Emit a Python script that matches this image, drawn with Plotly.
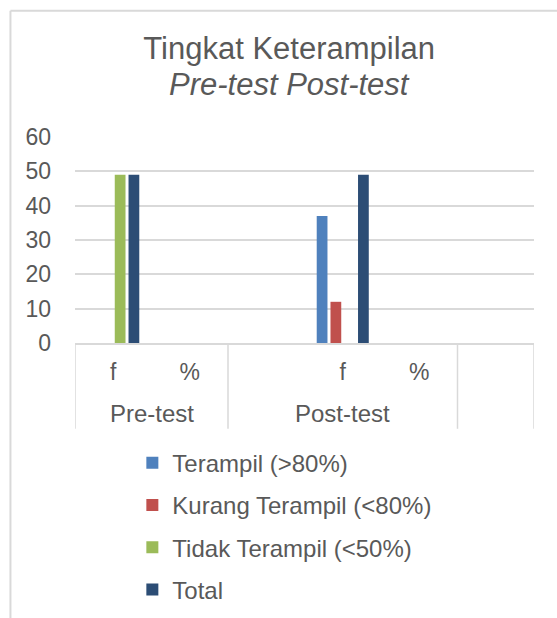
import plotly.graph_objects as go

# ---- data ----
positions = [0, 1, 2, 3, 4, 5]          # category slots on the x axis
tick_pos = [0, 1, 3, 4]
tick_text = ["f", "%", "f", "%"]
groups = ["Pre-test", "Post-test"]
group_centers = [0.5, 3]
dividers = [-0.5, 1.5, 4.5, 5.5]

series_names = ["Terampil (>80%)", "Kurang Terampil (<80%)", "Tidak Terampil (<50%)", "Total"]
terampil = [None, None, None, 37, None, None]
kurang = [None, None, None, 12, None, None]
tidak = [49, None, None, None, None, None]
total = [49, None, None, 49, None, None]
series_values = [terampil, kurang, tidak, total]
colors = ["#4F81BD", "#C0504D", "#9BBB59", "#2C4D75"]

TXT = "#595959"
GRID = "#D9D9D9"
FONT = "Liberation Sans, Arial, sans-serif"

W, H = 557, 618
L, R, T, B = 74.6, 534, 136.5, 343
pw, ph = R - L, B - T

def px_x(px):
    return (px - L) / pw

def px_y(py):
    return (B - py) / ph

fig = go.Figure()
for name, vals, col in zip(series_names, series_values, colors):
    fig.add_trace(go.Bar(x=positions, y=vals, name=name, marker=dict(color=col, line=dict(width=0)),
                         legendgroup=name))

fig.update_layout(
    width=W, height=H,
    margin=dict(l=L, r=W - R, t=T, b=H - B, autoexpand=False),
    paper_bgcolor="white", plot_bgcolor="white",
    font=dict(family=FONT, color=TXT, size=23),
    barmode="group", bargap=0.28, bargroupgap=0.22,
    title=dict(text="Tingkat Keterampilan", x=px_x(289), xref="paper", xanchor="center",
               y=1 - 48 / H, yref="container", yanchor="middle",
               font=dict(size=31, color=TXT, family=FONT)),
    legend=dict(x=px_x(132), y=px_y(441), xanchor="left", yanchor="top",
                orientation="v", traceorder="grouped", tracegroupgap=8,
                font=dict(size=24, color=TXT), bgcolor="rgba(0,0,0,0)"),
    showlegend=True,
)

fig.update_yaxes(range=[0, 60], dtick=10, showgrid=True, gridcolor=GRID, gridwidth=1.5,
                 zeroline=False, showline=False, ticks="", ticklabelstandoff=23,
                 tickfont=dict(size=23, color=TXT))
fig.update_xaxes(range=[-0.5, 5.5], tickmode="array", tickvals=tick_pos, ticktext=tick_text,
                 showgrid=False, zeroline=False, showline=True, linecolor=GRID, linewidth=1.5,
                 ticks="", ticklabelstandoff=8, tickfont=dict(size=23, color=TXT))

# second title line
fig.add_annotation(text="<i>Pre-test Post-test</i>", x=px_x(289), y=px_y(84), xref="paper", yref="paper",
                   xanchor="center", yanchor="middle", showarrow=False,
                   font=dict(size=31, color=TXT, family=FONT))

# group labels
for g, c in zip(groups, group_centers):
    fig.add_annotation(text=g, x=c, y=px_y(414), xref="x", yref="paper", xanchor="center",
                       yanchor="middle", showarrow=False, font=dict(size=24, color=TXT))

# category dividers
for d in dividers:
    fig.add_shape(type="line", xref="x", yref="paper", x0=d, x1=d, y0=0, y1=px_y(429),
                  line=dict(color=GRID, width=1.5))

# chart-area border (left and top edges)
fig.add_shape(type="line", xref="paper", yref="paper", x0=px_x(10), x1=px_x(10),
              y0=px_y(10), y1=px_y(700), line=dict(color=GRID, width=2))
fig.add_shape(type="line", xref="paper", yref="paper", x0=px_x(10), x1=px_x(700),
              y0=px_y(10), y1=px_y(10), line=dict(color=GRID, width=2))

fig.write_html("out.html", config={"displayModeBar": False},
               post_script="document.body.style.margin='0';document.body.style.overflow='hidden';")
